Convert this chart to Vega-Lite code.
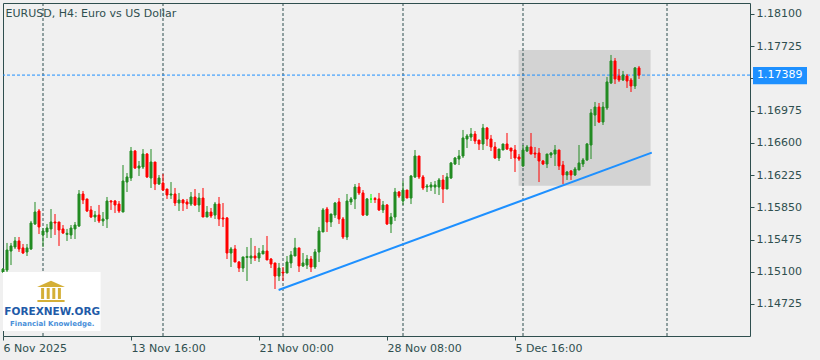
{
 "$schema": "https://vega.github.io/schema/vega-lite/v6.json",
 "width": 747, "height": 333,
 "autosize": {"type": "none"},
 "padding": {"left": 3, "top": 3, "right": 70, "bottom": 24},
 "background": "#F0F0F0",
 "title": {"text": "EURUSD, H4:  Euro vs US Dollar", "anchor": "start", "offset": -16, "dx": 4, "fontSize": 11, "font": "DejaVu Sans", "fontWeight": "normal", "color": "#2F4F4F"},
 "config": {"view": {"stroke": "#2F4F4F", "strokeWidth": 1, "fill": "#F0F0F0"}, "font": "DejaVu Sans", "axis": {"labelOverlap": false, "labelFlush": false, "labelBound": false}},
 "datasets": {
  "candles": [
{"i":0,"o":1.15097,"h":1.15143,"l":1.15085,"c":1.15132},
{"i":1,"o":1.15120,"h":1.15435,"l":1.15085,"c":1.15353},
{"i":2,"o":1.15341,"h":1.15435,"l":1.15178,"c":1.15400},
{"i":3,"o":1.15388,"h":1.15504,"l":1.15365,"c":1.15458},
{"i":4,"o":1.15458,"h":1.15504,"l":1.15330,"c":1.15365},
{"i":5,"o":1.15377,"h":1.15423,"l":1.15307,"c":1.15318},
{"i":6,"o":1.15330,"h":1.15423,"l":1.15283,"c":1.15377},
{"i":7,"o":1.15365,"h":1.15691,"l":1.15353,"c":1.15667},
{"i":8,"o":1.15656,"h":1.15912,"l":1.15644,"c":1.15795},
{"i":9,"o":1.15807,"h":1.15830,"l":1.15539,"c":1.15621},
{"i":10,"o":1.15528,"h":1.15609,"l":1.15388,"c":1.15574},
{"i":11,"o":1.15563,"h":1.15656,"l":1.15493,"c":1.15609},
{"i":12,"o":1.15598,"h":1.15830,"l":1.15493,"c":1.15679},
{"i":13,"o":1.15679,"h":1.15772,"l":1.15528,"c":1.15667},
{"i":14,"o":1.15679,"h":1.15679,"l":1.15400,"c":1.15586},
{"i":15,"o":1.15598,"h":1.15644,"l":1.15539,"c":1.15551},
{"i":16,"o":1.15535,"h":1.15598,"l":1.15458,"c":1.15547},
{"i":17,"o":1.15528,"h":1.15644,"l":1.15481,"c":1.15609},
{"i":18,"o":1.15598,"h":1.15679,"l":1.15481,"c":1.15644},
{"i":19,"o":1.15632,"h":1.16051,"l":1.15621,"c":1.16005},
{"i":20,"o":1.16005,"h":1.16040,"l":1.15888,"c":1.15935},
{"i":21,"o":1.15947,"h":1.15947,"l":1.15795,"c":1.15807},
{"i":22,"o":1.15819,"h":1.15865,"l":1.15726,"c":1.15737},
{"i":23,"o":1.15737,"h":1.15807,"l":1.15679,"c":1.15760},
{"i":24,"o":1.15760,"h":1.15877,"l":1.15667,"c":1.15691},
{"i":25,"o":1.15691,"h":1.15795,"l":1.15632,"c":1.15714},
{"i":26,"o":1.15714,"h":1.15970,"l":1.15609,"c":1.15923},
{"i":27,"o":1.15923,"h":1.15935,"l":1.15819,"c":1.15912},
{"i":28,"o":1.15923,"h":1.15935,"l":1.15784,"c":1.15877},
{"i":29,"o":1.15888,"h":1.15923,"l":1.15784,"c":1.15807},
{"i":30,"o":1.15795,"h":1.16342,"l":1.15795,"c":1.16156},
{"i":31,"o":1.16144,"h":1.16249,"l":1.16028,"c":1.16203},
{"i":32,"o":1.16191,"h":1.16552,"l":1.16156,"c":1.16505},
{"i":33,"o":1.16505,"h":1.16517,"l":1.16296,"c":1.16307},
{"i":34,"o":1.16307,"h":1.16389,"l":1.16214,"c":1.16331},
{"i":35,"o":1.16319,"h":1.16528,"l":1.16296,"c":1.16470},
{"i":36,"o":1.16470,"h":1.16482,"l":1.16191,"c":1.16203},
{"i":37,"o":1.16191,"h":1.16528,"l":1.16075,"c":1.16377},
{"i":38,"o":1.16377,"h":1.16377,"l":1.16051,"c":1.16121},
{"i":39,"o":1.16121,"h":1.16226,"l":1.16110,"c":1.16191},
{"i":40,"o":1.16133,"h":1.16238,"l":1.16040,"c":1.16051},
{"i":41,"o":1.16063,"h":1.16063,"l":1.15947,"c":1.15993},
{"i":42,"o":1.15993,"h":1.16144,"l":1.15947,"c":1.16005},
{"i":43,"o":1.16005,"h":1.16075,"l":1.15865,"c":1.15900},
{"i":44,"o":1.15900,"h":1.16017,"l":1.15807,"c":1.15935},
{"i":45,"o":1.15935,"h":1.15947,"l":1.15807,"c":1.15900},
{"i":46,"o":1.15912,"h":1.15947,"l":1.15830,"c":1.15888},
{"i":47,"o":1.15888,"h":1.16028,"l":1.15865,"c":1.15970},
{"i":48,"o":1.15970,"h":1.16063,"l":1.15865,"c":1.15877},
{"i":49,"o":1.15877,"h":1.16017,"l":1.15795,"c":1.15958},
{"i":50,"o":1.15958,"h":1.16075,"l":1.15737,"c":1.15737},
{"i":51,"o":1.15737,"h":1.15865,"l":1.15737,"c":1.15795},
{"i":52,"o":1.15795,"h":1.15842,"l":1.15726,"c":1.15749},
{"i":53,"o":1.15760,"h":1.15912,"l":1.15714,"c":1.15888},
{"i":54,"o":1.15888,"h":1.15970,"l":1.15632,"c":1.15714},
{"i":55,"o":1.15726,"h":1.15900,"l":1.15621,"c":1.15714},
{"i":56,"o":1.15726,"h":1.15737,"l":1.15248,"c":1.15318},
{"i":57,"o":1.15318,"h":1.15388,"l":1.15155,"c":1.15365},
{"i":58,"o":1.15365,"h":1.15411,"l":1.15213,"c":1.15213},
{"i":59,"o":1.15213,"h":1.15225,"l":1.15097,"c":1.15143},
{"i":60,"o":1.15143,"h":1.15272,"l":1.15097,"c":1.15272},
{"i":61,"o":1.15266,"h":1.15388,"l":1.14992,"c":1.15278},
{"i":62,"o":1.15260,"h":1.15493,"l":1.15190,"c":1.15283},
{"i":63,"o":1.15283,"h":1.15400,"l":1.15225,"c":1.15260},
{"i":64,"o":1.15260,"h":1.15377,"l":1.15213,"c":1.15318},
{"i":65,"o":1.15307,"h":1.15411,"l":1.15307,"c":1.15341},
{"i":66,"o":1.15341,"h":1.15516,"l":1.15237,"c":1.15237},
{"i":67,"o":1.15248,"h":1.15260,"l":1.15143,"c":1.15190},
{"i":68,"o":1.15202,"h":1.15202,"l":1.14899,"c":1.15050},
{"i":69,"o":1.15050,"h":1.15202,"l":1.14992,"c":1.15143},
{"i":70,"o":1.15097,"h":1.15155,"l":1.14992,"c":1.15085},
{"i":71,"o":1.15085,"h":1.15283,"l":1.15085,"c":1.15213},
{"i":72,"o":1.15202,"h":1.15341,"l":1.15143,"c":1.15295},
{"i":73,"o":1.15283,"h":1.15493,"l":1.15283,"c":1.15377},
{"i":74,"o":1.15377,"h":1.15377,"l":1.15097,"c":1.15167},
{"i":75,"o":1.15167,"h":1.15318,"l":1.15155,"c":1.15202},
{"i":76,"o":1.15178,"h":1.15295,"l":1.15132,"c":1.15248},
{"i":77,"o":1.15248,"h":1.15283,"l":1.15097,"c":1.15155},
{"i":78,"o":1.15155,"h":1.15365,"l":1.15132,"c":1.15330},
{"i":79,"o":1.15330,"h":1.15621,"l":1.15213,"c":1.15574},
{"i":80,"o":1.15563,"h":1.15842,"l":1.15563,"c":1.15819},
{"i":81,"o":1.15830,"h":1.15854,"l":1.15563,"c":1.15679},
{"i":82,"o":1.15679,"h":1.15772,"l":1.15621,"c":1.15772},
{"i":83,"o":1.15760,"h":1.15912,"l":1.15726,"c":1.15900},
{"i":84,"o":1.15912,"h":1.15958,"l":1.15656,"c":1.15714},
{"i":85,"o":1.15714,"h":1.15737,"l":1.15481,"c":1.15504},
{"i":86,"o":1.15504,"h":1.16005,"l":1.15469,"c":1.15923},
{"i":87,"o":1.15912,"h":1.15970,"l":1.15877,"c":1.15947},
{"i":88,"o":1.15947,"h":1.16121,"l":1.15830,"c":1.16086},
{"i":89,"o":1.16086,"h":1.16133,"l":1.15993,"c":1.16017},
{"i":90,"o":1.16017,"h":1.16051,"l":1.15749,"c":1.15760},
{"i":91,"o":1.15760,"h":1.15958,"l":1.15749,"c":1.15947},
{"i":92,"o":1.15946,"h":1.16005,"l":1.15900,"c":1.15946},
{"i":93,"o":1.15952,"h":1.15970,"l":1.15900,"c":1.15940},
{"i":94,"o":1.15947,"h":1.16017,"l":1.15807,"c":1.15819},
{"i":95,"o":1.15819,"h":1.15923,"l":1.15784,"c":1.15877},
{"i":96,"o":1.15877,"h":1.15888,"l":1.15644,"c":1.15656},
{"i":97,"o":1.15656,"h":1.15784,"l":1.15551,"c":1.15737},
{"i":98,"o":1.15737,"h":1.16075,"l":1.15691,"c":1.16028},
{"i":99,"o":1.16028,"h":1.16040,"l":1.15958,"c":1.15981},
{"i":100,"o":1.15923,"h":1.16156,"l":1.15877,"c":1.16051},
{"i":101,"o":1.16051,"h":1.16051,"l":1.15958,"c":1.15958},
{"i":102,"o":1.15958,"h":1.16226,"l":1.15888,"c":1.16214},
{"i":103,"o":1.16203,"h":1.16517,"l":1.16191,"c":1.16447},
{"i":104,"o":1.16447,"h":1.16447,"l":1.16179,"c":1.16203},
{"i":105,"o":1.16203,"h":1.16226,"l":1.16051,"c":1.16075},
{"i":106,"o":1.16086,"h":1.16121,"l":1.16028,"c":1.16098},
{"i":107,"o":1.16086,"h":1.16144,"l":1.16040,"c":1.16110},
{"i":108,"o":1.16086,"h":1.16156,"l":1.16005,"c":1.16110},
{"i":109,"o":1.16086,"h":1.16191,"l":1.15993,"c":1.16168},
{"i":110,"o":1.16168,"h":1.16226,"l":1.15900,"c":1.16063},
{"i":111,"o":1.16063,"h":1.16249,"l":1.16063,"c":1.16203},
{"i":112,"o":1.16191,"h":1.16377,"l":1.16179,"c":1.16366},
{"i":113,"o":1.16354,"h":1.16435,"l":1.16342,"c":1.16424},
{"i":114,"o":1.16412,"h":1.16517,"l":1.16342,"c":1.16447},
{"i":115,"o":1.16447,"h":1.16750,"l":1.16424,"c":1.16657},
{"i":116,"o":1.16645,"h":1.16703,"l":1.16540,"c":1.16680},
{"i":117,"o":1.16668,"h":1.16773,"l":1.16622,"c":1.16703},
{"i":118,"o":1.16703,"h":1.16738,"l":1.16587,"c":1.16622},
{"i":119,"o":1.16633,"h":1.16633,"l":1.16517,"c":1.16587},
{"i":120,"o":1.16587,"h":1.16820,"l":1.16517,"c":1.16773},
{"i":121,"o":1.16773,"h":1.16785,"l":1.16563,"c":1.16645},
{"i":122,"o":1.16645,"h":1.16692,"l":1.16505,"c":1.16552},
{"i":123,"o":1.16552,"h":1.16610,"l":1.16412,"c":1.16424},
{"i":124,"o":1.16424,"h":1.16528,"l":1.16389,"c":1.16528},
{"i":125,"o":1.16517,"h":1.16587,"l":1.16517,"c":1.16587},
{"i":126,"o":1.16587,"h":1.16715,"l":1.16517,"c":1.16528},
{"i":127,"o":1.16540,"h":1.16540,"l":1.16412,"c":1.16505},
{"i":128,"o":1.16517,"h":1.16575,"l":1.16261,"c":1.16424},
{"i":129,"o":1.16435,"h":1.16470,"l":1.16389,"c":1.16412},
{"i":130,"o":1.16331,"h":1.16575,"l":1.16319,"c":1.16517},
{"i":131,"o":1.16505,"h":1.16575,"l":1.16494,"c":1.16552},
{"i":132,"o":1.16552,"h":1.16715,"l":1.16470,"c":1.16470},
{"i":133,"o":1.16482,"h":1.16552,"l":1.16424,"c":1.16470},
{"i":134,"o":1.16482,"h":1.16540,"l":1.16144,"c":1.16389},
{"i":135,"o":1.16389,"h":1.16401,"l":1.16342,"c":1.16354},
{"i":136,"o":1.16354,"h":1.16470,"l":1.16307,"c":1.16470},
{"i":137,"o":1.16459,"h":1.16494,"l":1.16424,"c":1.16482},
{"i":138,"o":1.16470,"h":1.16575,"l":1.16331,"c":1.16517},
{"i":139,"o":1.16517,"h":1.16517,"l":1.16284,"c":1.16331},
{"i":140,"o":1.16342,"h":1.16389,"l":1.16121,"c":1.16226},
{"i":141,"o":1.16226,"h":1.16273,"l":1.16168,"c":1.16261},
{"i":142,"o":1.16273,"h":1.16284,"l":1.16168,"c":1.16226},
{"i":143,"o":1.16226,"h":1.16319,"l":1.16214,"c":1.16296},
{"i":144,"o":1.16284,"h":1.16575,"l":1.16284,"c":1.16366},
{"i":145,"o":1.16354,"h":1.16424,"l":1.16319,"c":1.16401},
{"i":146,"o":1.16401,"h":1.16598,"l":1.16389,"c":1.16587},
{"i":147,"o":1.16575,"h":1.16994,"l":1.16412,"c":1.16948},
{"i":148,"o":1.16924,"h":1.17076,"l":1.16796,"c":1.17017},
{"i":149,"o":1.17017,"h":1.17064,"l":1.16831,"c":1.16843},
{"i":150,"o":1.16843,"h":1.17076,"l":1.16808,"c":1.17017},
{"i":151,"o":1.17006,"h":1.17367,"l":1.16983,"c":1.17309},
{"i":152,"o":1.17297,"h":1.17623,"l":1.17285,"c":1.17553},
{"i":153,"o":1.17553,"h":1.17588,"l":1.17285,"c":1.17344},
{"i":154,"o":1.17378,"h":1.17460,"l":1.17309,"c":1.17332},
{"i":155,"o":1.17332,"h":1.17437,"l":1.17320,"c":1.17390},
{"i":156,"o":1.17378,"h":1.17402,"l":1.17239,"c":1.17320},
{"i":157,"o":1.17332,"h":1.17355,"l":1.17192,"c":1.17262},
{"i":158,"o":1.17262,"h":1.17483,"l":1.17227,"c":1.17472},
{"i":159,"o":1.17472,"h":1.17495,"l":1.17344,"c":1.17389}
  ],
  "zone": [{"i1": 128.9, "i2": 161.9, "p1": 1.16100, "p2": 1.17681}],
  "grid": [{"i": 10}, {"i": 40}, {"i": 70}, {"i": 100}, {"i": 130}, {"i": 166}],
  "trend": [{"i": 68.9, "p": 1.14887}, {"i": 162.2, "p": 1.16486}],
  "last": [{"p": 1.17389, "label": "1.17389", "i1": 187.5, "i2": 201, "p1": 1.17283, "p2": 1.17483, "it": 188.5}],
  "logobox": [{"i1": 0, "i2": 24.4, "p1": 1.14410, "p2": 1.15097}],
  "roof": [{"i": 12, "p": 1.14923}],
  "cols": [{"i": 9.9}, {"i": 11.3}, {"i": 12.7}, {"i": 14.1}],
  "base": [{"i1": 8.6, "i2": 15.4, "p1": 1.14771, "p2": 1.14748}],
  "logo1": [{"i": 12.3, "p": 1.14631, "t": "FOREXNEW.ORG"}],
  "logo2": [{"i": 12.3, "p": 1.14495, "t": "Financial Knowledge."}]
 },
 "layer": [
  {
   "data": {"name": "zone"},
   "mark": {"type": "rect", "color": "#D3D3D3"},
   "encoding": {
    "x": {"field": "i1", "type": "quantitative", "scale": {"domain": [0, 186.75], "nice": false, "zero": false, "padding": 0},
      "axis": {"orient": "bottom", "values": [0, 32, 64, 96, 128], "tickCount": 30, "labelExpr": "datum.value == 0 ? '6 Nov 2025' : datum.value == 32 ? '13 Nov 16:00' : datum.value == 64 ? '21 Nov 00:00' : datum.value == 96 ? '28 Nov 08:00' : '5 Dec 16:00'", "title": null, "grid": false, "domain": false, "tickSize": 4, "tickColor": "#2F4F4F", "labelAlign": "left", "labelPadding": 2, "labelFont": "DejaVu Sans", "labelFontSize": 11, "labelColor": "#2F4F4F", "labelFlush": false, "labelOverlap": false}},
    "x2": {"field": "i2"},
    "y": {"field": "p1", "type": "quantitative", "scale": {"domain": [1.14352, 1.18228], "nice": false, "zero": false, "padding": 0},
      "axis": {"orient": "right", "values": [1.14725, 1.151, 1.15475, 1.1585, 1.16225, 1.166, 1.16975, 1.1735, 1.17725, 1.181], "tickCount": 30, "format": ".5f", "title": null, "grid": false, "domain": false, "tickSize": 4, "tickColor": "#2F4F4F", "labelPadding": 2, "labelFont": "DejaVu Sans", "labelFontSize": 11, "labelColor": "#2F4F4F", "labelOverlap": false, "labelFlush": false, "labelBaseline": "middle"}},
    "y2": {"field": "p2"}
   }
  },
  {
   "data": {"name": "grid"},
   "mark": {"type": "rule", "color": "#2F4F4F", "strokeDash": [3, 2], "strokeWidth": 1},
   "encoding": {
    "x": {"field": "i", "type": "quantitative"}
   }
  },
  {
   "data": {"name": "last"},
   "mark": {"type": "rule", "color": "#1E90FF", "strokeDash": [3, 2], "strokeWidth": 1},
   "encoding": {
    "y": {"field": "p", "type": "quantitative"}
   }
  },
  {
   "data": {"name": "trend"},
   "mark": {"type": "line", "color": "#1E90FF", "strokeWidth": 2},
   "encoding": {
    "x": {"field": "i", "type": "quantitative"},
    "y": {"field": "p", "type": "quantitative"}
   }
  },
  {
   "data": {"name": "candles"},
   "mark": {"type": "rule", "strokeWidth": 1},
   "encoding": {
    "x": {"field": "i", "type": "quantitative"},
    "y": {"field": "l", "type": "quantitative"},
    "y2": {"field": "h"},
    "color": {"condition": [{"test": "datum.c > datum.o", "value": "#228B22"}, {"test": "datum.c < datum.o", "value": "#FF0000"}], "value": "#00FF00"}
   }
  },
  {
   "data": {"name": "candles"},
   "mark": {"type": "bar", "size": 2, "strokeWidth": 1},
   "encoding": {
    "x": {"field": "i", "type": "quantitative"},
    "y": {"field": "o", "type": "quantitative"},
    "y2": {"field": "c"},
    "color": {"condition": [{"test": "datum.c > datum.o", "value": "#228B22"}, {"test": "datum.c < datum.o", "value": "#FF0000"}], "value": "#00FF00"},
    "stroke": {"condition": [{"test": "datum.c > datum.o", "value": "#228B22"}, {"test": "datum.c < datum.o", "value": "#FF0000"}], "value": "#00FF00"}
   }
  },
  {
   "data": {"name": "logobox"},
   "mark": {"type": "rect", "color": "#FFFFFF"},
   "encoding": {
    "x": {"field": "i1", "type": "quantitative"},
    "x2": {"field": "i2"},
    "y": {"field": "p1", "type": "quantitative"},
    "y2": {"field": "p2"}
   }
  },
  {
   "data": {"name": "roof"},
   "mark": {"type": "point", "shape": "M-1,0L0,-0.45L1,0Z", "filled": true, "color": "#D4AF37", "size": 780, "opacity": 1},
   "encoding": {
    "x": {"field": "i", "type": "quantitative"},
    "y": {"field": "p", "type": "quantitative"}
   }
  },
  {
   "data": {"name": "cols"},
   "mark": {"type": "rect", "color": "#D4AF37", "width": 3},
   "encoding": {
    "x": {"field": "i", "type": "quantitative"},
    "y": {"datum": 1.14911, "type": "quantitative"},
    "y2": {"datum": 1.14783}
   }
  },
  {
   "data": {"name": "base"},
   "mark": {"type": "rect", "color": "#D4AF37"},
   "encoding": {
    "x": {"field": "i1", "type": "quantitative"},
    "x2": {"field": "i2"},
    "y": {"field": "p1", "type": "quantitative"},
    "y2": {"field": "p2"}
   }
  },
  {
   "data": {"name": "logo1"},
   "mark": {"type": "text", "font": "DejaVu Sans", "fontWeight": "bold", "fontSize": 10.5, "color": "#1F5BA8", "align": "center", "baseline": "middle"},
   "encoding": {
    "x": {"field": "i", "type": "quantitative"},
    "y": {"field": "p", "type": "quantitative"},
    "text": {"field": "t"}
   }
  },
  {
   "data": {"name": "logo2"},
   "mark": {"type": "text", "font": "DejaVu Sans", "fontWeight": "bold", "fontSize": 7, "color": "#4A90D9", "align": "center", "baseline": "middle"},
   "encoding": {
    "x": {"field": "i", "type": "quantitative"},
    "y": {"field": "p", "type": "quantitative"},
    "text": {"field": "t"}
   }
  },
  {
   "data": {"name": "last"},
   "mark": {"type": "rect", "color": "#1E90FF"},
   "encoding": {
    "x": {"field": "i1", "type": "quantitative"},
    "x2": {"field": "i2"},
    "y": {"field": "p1", "type": "quantitative"},
    "y2": {"field": "p2"}
   }
  },
  {
   "data": {"name": "last"},
   "mark": {"type": "text", "font": "DejaVu Sans", "fontSize": 11, "color": "#FFFFFF", "align": "left", "baseline": "middle"},
   "encoding": {
    "x": {"field": "it", "type": "quantitative"},
    "y": {"field": "p", "type": "quantitative"},
    "text": {"field": "label"}
   }
  }
 ]
}
